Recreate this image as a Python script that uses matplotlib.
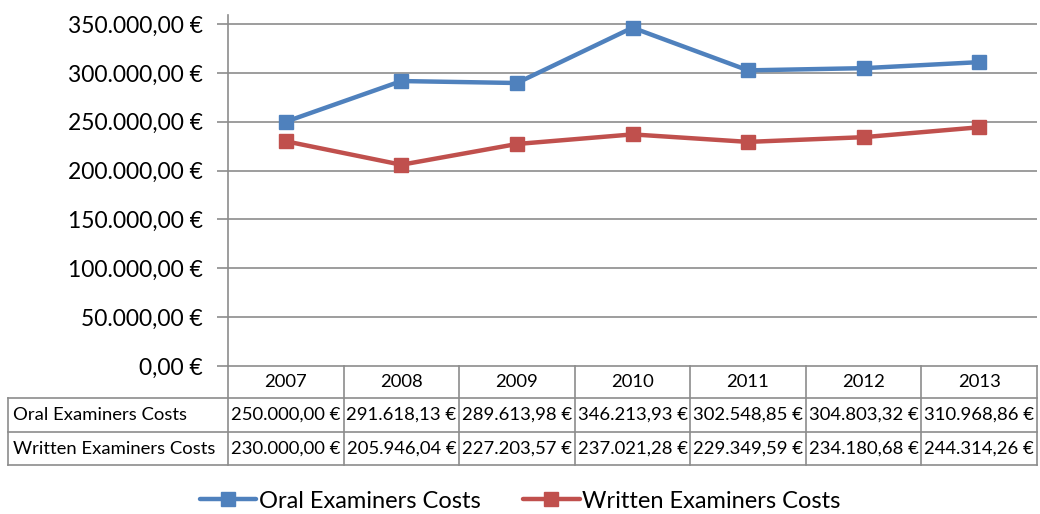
import matplotlib
matplotlib.use("Agg")
import matplotlib.pyplot as plt
from matplotlib.transforms import blended_transform_factory
from matplotlib.lines import Line2D

plt.rcParams['font.family'] = ['Lato', 'DejaVu Sans']

years = ["2007", "2008", "2009", "2010", "2011", "2012", "2013"]
oral = [250000.00, 291618.13, 289613.98, 346213.93, 302548.85, 304803.32, 310968.86]
written = [230000.00, 205946.04, 227203.57, 237021.28, 229349.59, 234180.68, 244314.26]
series_names = ["Oral Examiners Costs", "Written Examiners Costs"]
yticks = [0, 50000, 100000, 150000, 200000, 250000, 300000, 350000]

blue = "#4F81BD"
red = "#C0504D"
grid_c = "#8C8C8C"

def eur(v):
    s = f"{v:,.2f}"
    s = s.replace(",", "X").replace(".", ",").replace("X", ".")
    return s + " €"

W, H = 1040, 514
fig = plt.figure(figsize=(W / 100, H / 100), dpi=100)
left_px, right_px, top_px, bot_px = 228, 1037, 15, 366
ax = fig.add_axes([left_px / W, 1 - bot_px / H, (right_px - left_px) / W, (bot_px - top_px) / H])

x = list(range(len(years)))
ax.plot(x, oral, color=blue, lw=3.2, marker="s", ms=10, label=series_names[0], solid_capstyle="round")
ax.plot(x, written, color=red, lw=3.2, marker="s", ms=10, label=series_names[1], solid_capstyle="round")

ymax = 350000 * (bot_px - top_px) / (bot_px - 24)
ax.set_ylim(0, ymax)
ax.set_xlim(-0.5, len(years) - 0.5)
ax.set_yticks(yticks)
ax.set_yticklabels([eur(v) for v in yticks], fontsize=16.5)
ax.set_xticks([])
for v in yticks[1:]:
    ax.axhline(v, color=grid_c, lw=1.2, zorder=0)
ax.tick_params(axis="y", length=8, width=1.2, color=grid_c, pad=10)
for s in ["top", "right", "bottom"]:
    ax.spines[s].set_visible(False)
ax.spines["left"].set_color(grid_c)
ax.spines["left"].set_linewidth(1.2)

# table below the plot
tr = blended_transform_factory(ax.transData, fig.transFigure)
def fy(py):
    return 1 - py / H
rows_px = [366, 398, 432, 465]
xl = -0.5
xr = len(years) - 0.5
label_left = xl - (left_px - 8) / ((right_px - left_px) / len(years))
lk = dict(color=grid_c, lw=1.2, transform=tr, clip_on=False)
ax.add_line(Line2D([xl, xr], [fy(rows_px[0])] * 2, **lk))
for py in rows_px[1:]:
    ax.add_line(Line2D([label_left, xr], [fy(py)] * 2, **lk))
for i in range(len(years) + 1):
    ax.add_line(Line2D([xl + i, xl + i], [fy(rows_px[0]), fy(rows_px[3])], **lk))
ax.add_line(Line2D([label_left, label_left], [fy(rows_px[1]), fy(rows_px[3])], **lk))

tfs = 13.3
for i, yr in enumerate(years):
    ax.text(i, fy((rows_px[0] + rows_px[1]) / 2), yr, ha="center", va="center", fontsize=tfs, transform=tr)
for r, (name, vals) in enumerate(zip(series_names, [oral, written])):
    yc = fy((rows_px[r + 1] + rows_px[r + 2]) / 2)
    ax.text(label_left + 0.045, yc, name, ha="left", va="center", fontsize=tfs, transform=tr)
    for i, v in enumerate(vals):
        ax.text(i, yc, eur(v), ha="center", va="center", fontsize=tfs, transform=tr)

fig.legend(loc="center", bbox_to_anchor=(0.5, 1 - 501 / H), ncol=2, frameon=False,
           fontsize=17, handlelength=2.4, columnspacing=1.8, handletextpad=0.1)

fig.savefig("out.png", dpi=100)
